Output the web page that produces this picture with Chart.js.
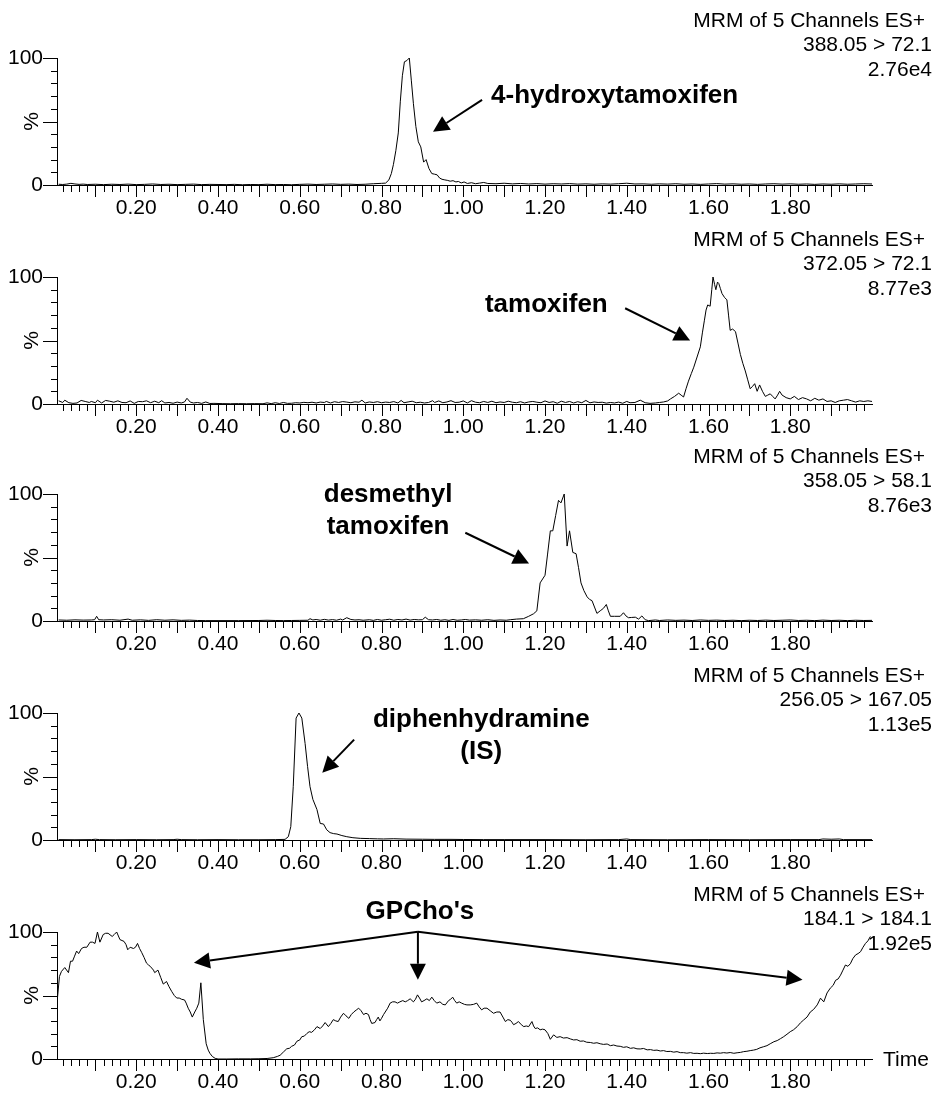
<!DOCTYPE html>
<html>
<head>
<meta charset="utf-8">
<title>MRM chromatograms</title>
<script src="https://cdn.jsdelivr.net/npm/chart.js@4.4.0/dist/chart.umd.min.js"></script>
<style>
  html, body { margin: 0; padding: 0; background: #fff; }
  #wrap { position: relative; width: 937px; height: 1096px; overflow: hidden; }
  #wrap canvas { position: absolute; left: 0; }
</style>
</head>
<body>
<div id="wrap">
  <canvas id="c1" width="937" height="219" style="top:0px"></canvas>
  <canvas id="c2" width="937" height="219" style="top:219px"></canvas>
  <canvas id="c3" width="937" height="219" style="top:436px"></canvas>
  <canvas id="c4" width="937" height="219" style="top:655px"></canvas>
  <canvas id="c5" width="937" height="219" style="top:874px"></canvas>
</div>
<script>
// Tick labels
const xTickLabels = [0.2, 0.4, 0.6, 0.8, 1.0, 1.2, 1.4, 1.6, 1.8];
const yTickLabels = [0, 100];

// Traces: [time (min), intensity (%)]
const hydroxyTrace = [
  [0.01,0.6],[0.02,0.4],[0.03,0.7],[0.04,1.3],[0.05,0.8],[0.06,0.5],[0.07,0.7],[0.08,0.4],[0.10,0.6],[0.12,0.3],
  [0.14,0.6],[0.16,0.4],[0.18,0.7],[0.20,0.3],[0.22,0.5],[0.24,0.8],[0.26,0.4],[0.28,0.6],[0.30,0.3],[0.32,0.5],
  [0.34,0.7],[0.36,0.3],[0.38,0.5],[0.40,0.4],[0.42,0.3],[0.44,0.5],[0.46,0.2],[0.48,0.4],[0.50,0.3],[0.52,0.6],
  [0.54,0.3],[0.56,0.4],[0.58,0.2],[0.60,0.5],[0.62,0.7],[0.64,0.4],[0.66,0.6],[0.68,0.8],[0.70,0.5],[0.72,0.7],
  [0.74,0.4],[0.76,0.6],[0.78,1.0],[0.80,1.3],[0.81,1.5],[0.818,4],[0.824,9],[0.829,16],[0.835,27],[0.841,41],
  [0.846,66],[0.851,86],[0.856,97],[0.862,98],[0.868,100],[0.873,82],[0.878,64],[0.884,46],[0.890,34],[0.896,30],
  [0.903,18],[0.909,20],[0.916,13],[0.923,9],[0.930,8.5],[0.936,8],[0.942,5.5],[0.948,4.5],[0.955,4],[0.962,3.6],
  [0.968,3],[0.975,3.4],[0.982,2.4],[0.988,2.8],[0.995,1.6],[1.002,2.4],[1.010,1.2],[1.02,1.8],[1.03,1.0],[1.04,1.5],
  [1.05,2.0],[1.06,1.2],[1.08,1.0],[1.10,1.4],[1.12,0.9],[1.14,1.2],[1.16,0.8],[1.18,1.1],[1.20,0.7],[1.22,1.0],
  [1.24,0.8],[1.26,1.1],[1.28,0.7],[1.30,0.9],[1.32,0.6],[1.34,0.9],[1.36,0.7],[1.38,1.0],[1.40,1.4],[1.42,0.8],
  [1.44,0.9],[1.46,0.6],[1.48,0.9],[1.50,0.7],[1.52,1.0],[1.54,0.6],[1.56,0.8],[1.58,0.5],[1.60,0.8],[1.62,1.1],
  [1.64,0.7],[1.66,0.9],[1.68,0.6],[1.70,0.8],[1.72,0.5],[1.74,0.8],[1.76,1.0],[1.78,0.7],[1.80,0.9],[1.82,0.6],
  [1.84,0.8],[1.86,0.5],[1.88,0.8],[1.90,0.6],[1.92,0.9],[1.94,0.6],[1.96,0.8],[1.98,1.0],[2.00,0.8]
];

const tamoxifenTrace = [
  [0.01,2.5],[0.02,1.2],[0.025,3.0],[0.035,1.0],[0.045,0.5],[0.055,0.8],[0.065,2.8],[0.075,2.0],[0.085,1.2],[0.09,2.0],
  [0.10,1.0],[0.105,3.0],[0.115,0.8],[0.125,2.8],[0.135,2.2],[0.145,1.4],[0.155,2.5],[0.165,1.2],[0.175,1.0],[0.185,2.4],
  [0.195,0.5],[0.205,2.0],[0.215,1.8],[0.225,2.5],[0.235,1.0],[0.245,2.2],[0.255,1.0],[0.262,2.6],[0.27,0.8],[0.28,1.2],
  [0.29,0.6],[0.30,1.5],[0.31,0.8],[0.318,1.6],[0.324,4.5],[0.332,1.5],[0.34,0.8],[0.35,1.2],[0.36,0.5],[0.37,1.6],
  [0.38,0.4],[0.39,0.5],[0.41,0.3],[0.43,0.2],[0.45,0.3],[0.47,0.2],[0.49,0.3],[0.51,0.2],[0.52,0.9],[0.53,0.3],
  [0.54,1.0],[0.55,0.4],[0.56,1.2],[0.57,0.5],[0.58,0.6],[0.59,1.0],[0.60,0.8],[0.61,1.3],[0.62,1.0],[0.63,1.4],
  [0.64,0.8],[0.65,1.5],[0.66,1.2],[0.665,2.0],[0.675,0.8],[0.685,1.8],[0.695,1.2],[0.705,1.9],[0.715,1.5],[0.725,1.0],
  [0.735,1.7],[0.745,1.4],[0.752,3.0],[0.76,0.8],[0.77,1.6],[0.78,1.2],[0.79,1.8],[0.80,1.0],[0.81,1.5],[0.82,1.2],
  [0.83,1.9],[0.84,0.8],[0.848,2.8],[0.855,1.0],[0.865,1.6],[0.875,2.2],[0.885,1.0],[0.895,1.4],[0.905,0.8],[0.915,1.2],
  [0.925,2.6],[0.93,1.2],[0.94,2.4],[0.95,1.0],[0.96,1.6],[0.97,2.6],[0.98,1.2],[0.99,1.4],[1.00,2.4],[1.01,0.8],
  [1.02,2.6],[1.03,1.4],[1.04,1.0],[1.05,2.0],[1.06,1.2],[1.07,2.2],[1.08,1.0],[1.09,1.6],[1.10,1.2],[1.11,2.2],
  [1.12,1.4],[1.13,1.0],[1.14,1.8],[1.15,0.8],[1.16,1.6],[1.17,2.0],[1.18,1.4],[1.19,1.0],[1.20,2.4],[1.21,1.2],
  [1.22,1.8],[1.23,0.6],[1.24,2.2],[1.25,1.2],[1.26,2.0],[1.27,0.8],[1.28,1.8],[1.29,1.0],[1.30,2.8],[1.31,0.9],
  [1.32,1.6],[1.33,1.2],[1.34,1.4],[1.35,0.7],[1.36,1.2],[1.37,0.8],[1.38,1.5],[1.39,0.6],[1.40,2.0],[1.408,1.0],
  [1.42,1.2],[1.433,3.0],[1.445,1.0],[1.457,0.5],[1.47,0.8],[1.48,1.2],[1.49,1.6],[1.50,2.4],[1.507,4.0],[1.517,6.0],
  [1.527,8.5],[1.533,7.0],[1.539,5.5],[1.545,12],[1.551,18],[1.558,24],[1.564,29],[1.572,37],[1.580,45],[1.585,56],
  [1.590,66],[1.594,74],[1.598,78],[1.604,77],[1.608,90],[1.611,100],[1.615,94],[1.618,90],[1.622,96],[1.625,95],
  [1.629,91],[1.633,87],[1.639,84],[1.645,82],[1.649,70],[1.653,58],[1.659,59],[1.666,57],[1.672,48],[1.678,39],
  [1.684,32],[1.690,26],[1.696,19],[1.702,12],[1.708,14],[1.713,16],[1.719,10],[1.725,15],[1.732,10],[1.739,6],
  [1.745,7],[1.751,8],[1.757,6],[1.763,4],[1.769,7],[1.774,10],[1.78,7],[1.79,5],[1.80,4],[1.81,6],
  [1.82,3.5],[1.83,5],[1.84,4],[1.85,2.5],[1.86,4.5],[1.87,3],[1.88,4],[1.89,2],[1.90,2.5],[1.91,1.2],
  [1.92,2.5],[1.93,3],[1.94,3.5],[1.95,2.5],[1.96,1.5],[1.97,2.5],[1.98,2],[1.99,2.5],[2.00,2.0]
];

const desmethylTrace = [
  [0.01,0.8],[0.03,0.6],[0.05,0.9],[0.07,0.7],[0.09,0.8],[0.098,1.0],[0.103,3.7],[0.108,1.0],[0.12,0.8],[0.14,1.0],
  [0.16,0.6],[0.18,1.5],[0.19,0.6],[0.21,0.9],[0.23,0.5],[0.25,1.0],[0.27,0.6],[0.29,0.9],[0.31,0.5],[0.33,0.7],
  [0.35,0.4],[0.37,0.3],[0.40,0.3],[0.45,0.3],[0.50,0.4],[0.52,0.6],[0.54,0.4],[0.56,0.3],[0.58,0.4],[0.60,0.5],
  [0.62,0.6],[0.625,1.8],[0.632,0.8],[0.64,1.2],[0.65,0.6],[0.66,1.3],[0.67,0.7],[0.68,1.1],[0.69,0.6],[0.70,1.5],
  [0.705,0.8],[0.715,2.6],[0.725,1.2],[0.735,0.8],[0.745,1.0],[0.755,0.6],[0.77,1.0],[0.78,0.5],[0.79,1.2],[0.80,0.6],
  [0.81,1.0],[0.82,1.4],[0.83,0.6],[0.84,1.2],[0.85,0.8],[0.86,1.5],[0.87,0.7],[0.88,1.2],[0.89,0.9],[0.90,1.0],
  [0.907,3.0],[0.915,1.0],[0.925,0.8],[0.935,1.2],[0.945,0.6],[0.955,1.0],[0.965,0.5],[0.975,1.2],[0.985,0.6],[0.995,0.8],
  [1.005,1.2],[1.015,0.7],[1.03,0.9],[1.045,0.6],[1.06,1.0],[1.075,0.5],[1.09,0.8],[1.105,0.6],[1.115,1.0],[1.13,1.5],
  [1.147,1.8],[1.16,3.7],[1.172,5.7],[1.18,8],[1.188,30],[1.200,36],[1.206,52],[1.213,71],[1.219,71],[1.226,83],
  [1.233,95],[1.239,93],[1.247,100],[1.254,59],[1.260,71],[1.268,54],[1.276,53],[1.282,42],[1.288,30],[1.295,24],
  [1.303,19],[1.309,17],[1.315,16],[1.321,11],[1.327,6],[1.335,8],[1.343,10],[1.350,13],[1.355,8],[1.360,3.7],
  [1.370,3.7],[1.384,3.7],[1.392,6.5],[1.398,4],[1.404,2.6],[1.412,2.8],[1.421,3],[1.429,1.5],[1.437,4],[1.445,1.0],
  [1.453,0.3],[1.47,0.8],[1.48,0.4],[1.50,0.8],[1.52,0.5],[1.54,0.7],[1.56,0.4],[1.58,0.8],[1.60,0.5],[1.62,0.7],
  [1.64,0.4],[1.66,0.6],[1.68,0.3],[1.70,0.6],[1.72,0.4],[1.74,0.7],[1.76,0.4],[1.78,0.6],[1.80,0.8],[1.82,0.4],
  [1.84,0.6],[1.86,0.3],[1.88,0.7],[1.90,0.4],[1.92,0.6],[1.94,0.3],[1.96,0.6],[1.98,0.4],[2.00,0.5]
];

const diphenTrace = [
  [0.01,0.3],[0.05,0.2],[0.09,0.3],[0.10,0.6],[0.11,0.3],[0.15,0.2],[0.20,0.3],[0.25,0.2],[0.29,0.3],[0.30,0.6],
  [0.31,0.3],[0.35,0.2],[0.40,0.3],[0.45,0.2],[0.50,0.2],[0.54,0.3],[0.564,0.5],[0.572,2.6],[0.578,10.5],[0.584,42],
  [0.591,96],[0.598,100],[0.605,96],[0.613,76],[0.619,58],[0.625,42],[0.632,32],[0.642,24],[0.650,13],[0.658,12.6],
  [0.666,8],[0.674,5.8],[0.683,5.0],[0.691,4.7],[0.703,3.5],[0.715,2.6],[0.730,1.8],[0.748,1.3],[0.77,1.1],[0.79,0.9],
  [0.805,0.8],[0.83,1.0],[0.86,0.7],[0.90,0.6],[0.93,0.5],[0.97,0.5],[1.00,0.4],[1.05,0.3],[1.10,0.3],[1.20,0.3],
  [1.30,0.2],[1.38,0.3],[1.40,0.8],[1.41,0.3],[1.50,0.2],[1.60,0.3],[1.70,0.2],[1.80,0.3],[1.87,0.3],[1.88,0.8],
  [1.90,0.6],[1.92,0.8],[1.93,0.3],[2.00,0.3]
];

const gpchoTrace = [
  [0.006,44],[0.012,65],[0.017,69],[0.025,72],[0.034,68],[0.039,77],[0.044,77],[0.049,81],[0.054,85],[0.059,83],
  [0.066,87],[0.072,88],[0.079,88],[0.087,92],[0.093,92],[0.099,91],[0.105,100],[0.111,92],[0.119,98],[0.125,99],
  [0.131,99],[0.141,96.5],[0.146,98],[0.152,100],[0.160,94],[0.170,92.6],[0.175,90],[0.179,86],[0.185,88],[0.193,87],
  [0.198,88],[0.203,91],[0.208,87],[0.213,84],[0.219,80],[0.225,75.5],[0.230,74],[0.234,73],[0.242,70],[0.245,68],
  [0.253,70],[0.260,64],[0.266,59],[0.274,61],[0.280,57],[0.287,53],[0.293,50],[0.299,48],[0.305,48],[0.311,47],
  [0.318,46.5],[0.322,44],[0.327,40],[0.332,37],[0.337,33],[0.343,37],[0.348,40],[0.353,44],[0.358,60],[0.364,31],
  [0.371,12],[0.376,7],[0.380,4.5],[0.386,2],[0.393,0.5],[0.40,0],[0.42,0],[0.45,0.1],[0.48,0.1],[0.50,0.2],
  [0.52,0.4],[0.535,1],[0.545,2],[0.552,3],[0.560,5.5],[0.568,8],[0.575,8.5],[0.580,10],[0.587,11],[0.593,14],
  [0.600,15],[0.605,17.6],[0.611,18],[0.617,20],[0.623,21.5],[0.629,21],[0.636,23],[0.642,25.5],[0.650,24],[0.656,26],
  [0.662,28.7],[0.670,25.5],[0.676,28],[0.682,31],[0.688,30],[0.694,29.5],[0.700,33],[0.707,36],[0.713,34],[0.720,32],
  [0.726,35],[0.732,37],[0.738,38.5],[0.744,40],[0.750,38],[0.756,35],[0.762,36],[0.768,35],[0.772,31],[0.776,28],
  [0.784,28.7],[0.788,31],[0.792,33],[0.796,30],[0.800,32],[0.805,35],[0.809,37],[0.815,40],[0.821,44],[0.827,45],
  [0.833,45],[0.839,44],[0.845,45],[0.852,46],[0.858,45],[0.864,46],[0.870,47.4],[0.878,45],[0.883,47],[0.888,50.5],
  [0.893,48],[0.898,45],[0.904,46],[0.911,47.4],[0.917,46],[0.923,48.7],[0.929,46],[0.935,44],[0.943,45],[0.950,43],
  [0.956,42.6],[0.964,46],[0.969,47],[0.974,48.7],[0.979,46],[0.984,44],[0.990,45],[0.996,44],[1.003,43],[1.009,42.6],
  [1.017,42.6],[1.025,43],[1.033,44],[1.039,41],[1.045,38.7],[1.051,40],[1.058,40],[1.066,38],[1.074,36],[1.082,37],
  [1.090,37],[1.097,33],[1.103,29.5],[1.109,31],[1.115,30.5],[1.119,29],[1.123,27],[1.129,28],[1.135,29.5],[1.142,27],
  [1.148,25.5],[1.154,26],[1.160,25.5],[1.168,29.5],[1.172,26],[1.176,24],[1.182,24.5],[1.188,23],[1.194,23.5],[1.200,23],
  [1.207,20],[1.213,15.5],[1.221,19],[1.229,17],[1.237,17.6],[1.245,16.5],[1.254,16.8],[1.262,15.8],[1.270,15],[1.278,15.2],
  [1.286,14],[1.294,14.2],[1.302,13.2],[1.311,13],[1.319,12.4],[1.327,12.8],[1.335,12],[1.343,11.5],[1.352,11.8],[1.360,10.5],
  [1.368,11],[1.376,10.2],[1.384,10],[1.392,9.2],[1.400,9.6],[1.409,8.4],[1.417,8.8],[1.425,8.0],[1.433,7.9],[1.441,8.3],
  [1.450,7.2],[1.458,7.4],[1.466,6.8],[1.474,7.0],[1.482,6.3],[1.490,6.6],[1.498,5.9],[1.507,6.0],[1.515,5.4],[1.523,5.8],
  [1.531,5.0],[1.539,5.0],[1.547,4.6],[1.556,5.0],[1.564,4.4],[1.572,4.5],[1.580,4.2],[1.588,4.6],[1.597,4.3],[1.605,4.5],
  [1.613,4.4],[1.621,4.8],[1.629,4.6],[1.637,5.0],[1.645,4.7],[1.653,5.1],[1.662,4.5],[1.670,4.9],[1.678,5.2],[1.686,5.8],
  [1.694,6.1],[1.702,6.6],[1.710,7.0],[1.718,7.6],[1.726,8.8],[1.735,9.7],[1.743,10.5],[1.751,12],[1.760,13.6],[1.768,14.5],
  [1.776,16],[1.784,17.6],[1.792,19.5],[1.800,21.5],[1.808,23],[1.817,25.5],[1.825,28.5],[1.833,30.8],[1.841,33],[1.849,37],
  [1.857,39],[1.866,42.6],[1.874,47.9],[1.882,45],[1.890,52],[1.898,55.8],[1.905,58],[1.911,62],[1.917,63],[1.923,66],
  [1.929,70],[1.935,74],[1.941,73],[1.947,75],[1.953,79],[1.960,82],[1.966,83],[1.972,84.5],[1.978,88],[1.984,91],
  [1.990,93],[1.996,96.5]
];

const FONT = '"Liberation Sans", Arial, Helvetica, sans-serif';
Chart.defaults.font.family = FONT;
Chart.defaults.color = '#000';

// Panel decorations (annotation positions in data units)
const panels = [
  {
    id: 'c1', trace: hydroxyTrace,
    header: ['MRM of 5 Channels ES+', '388.05 > 72.1', '2.76e4'],
    labels: [{ lines: ['4-hydroxytamoxifen'], t: 1.068, p: 70, align: 'left' }],
    arrows: [{ from: [1.046, 67], to: [0.926, 42] }]
  },
  {
    id: 'c2', trace: tamoxifenTrace,
    header: ['MRM of 5 Channels ES+', '372.05 > 72.1', '8.77e3'],
    labels: [{ lines: ['tamoxifen'], t: 1.053, p: 78, align: 'left' }],
    arrows: [{ from: [1.396, 75.4], to: [1.555, 50] }]
  },
  {
    id: 'c3', trace: desmethylTrace,
    header: ['MRM of 5 Channels ES+', '358.05 > 58.1', '8.76e3'],
    labels: [{ lines: ['desmethyl', 'tamoxifen'], t: 0.816, p: 99, align: 'center' }],
    arrows: [{ from: [1.005, 69.5], to: [1.161, 45.3] }]
  },
  {
    id: 'c4', trace: diphenTrace,
    header: ['MRM of 5 Channels ES+', '256.05 > 167.05', '1.13e5'],
    labels: [{ lines: ['diphenhydramine', '(IS)'], t: 1.044, p: 94.7, align: 'center' }],
    arrows: [{ from: [0.733, 79], to: [0.655, 53] }]
  },
  {
    id: 'c5', trace: gpchoTrace, showTime: true,
    header: ['MRM of 5 Channels ES+', '184.1 > 184.1', '1.92e5'],
    labels: [{ lines: ["GPCho's"], t: 0.894, p: 116, align: 'center' }],
    arrows: [
      { from: [0.889, 100.2], to: [0.341, 75.8] },
      { from: [0.889, 100.2], to: [0.889, 62.4] },
      { from: [0.889, 100.2], to: [1.830, 62.4] }
    ]
  }
];

function drawArrow(ctx, x1, y1, x2, y2) {
  const ang = Math.atan2(y2 - y1, x2 - x1);
  const hl = 16, hw = 8;
  const bx = x2 - hl * Math.cos(ang), by = y2 - hl * Math.sin(ang);
  ctx.beginPath();
  ctx.moveTo(x1, y1);
  ctx.lineTo(bx, by);
  ctx.stroke();
  ctx.beginPath();
  ctx.moveTo(x2, y2);
  ctx.lineTo(bx + hw * Math.sin(ang), by - hw * Math.cos(ang));
  ctx.lineTo(bx - hw * Math.sin(ang), by + hw * Math.cos(ang));
  ctx.closePath();
  ctx.fill();
}

// Tick marks, header text, labels and arrows
function makeDecor(panel) {
  return {
    id: 'decor',
    afterDraw(chart) {
      const { ctx, chartArea: area, scales: { x, y } } = chart;
      ctx.save();
      ctx.strokeStyle = '#000';
      ctx.fillStyle = '#000';
      ctx.lineWidth = 1;

      // minor / major tick marks
      ctx.beginPath();
      for (let i = 1; i < 100; i++) {
        const px = Math.round(x.getPixelForValue(i * 0.02)) + 0.5;
        const len = i % 5 === 0 ? 12 : 7;
        ctx.moveTo(px, area.bottom);
        ctx.lineTo(px, area.bottom + len);
      }
      for (let v = 0; v <= 100; v += 10) {
        const py = Math.round(y.getPixelForValue(v)) + 0.5;
        const len = v % 50 === 0 ? 14 : 6;
        ctx.moveTo(area.left - len, py);
        ctx.lineTo(area.left, py);
      }
      ctx.stroke();

      // header (first line sits a little left, as in the instrument printout)
      ctx.font = '21px ' + FONT;
      ctx.textAlign = 'right';
      ctx.textBaseline = 'middle';
      panel.header.forEach((line, i) => {
        const right = i === 0 ? chart.width - 12 : chart.width - 5;
        ctx.fillText(line, right, area.top - 37 + i * 24.5);
      });

      if (panel.showTime) {
        ctx.textAlign = 'left';
        ctx.fillText('Time', area.right + 11, area.bottom + 1);
      }

      // compound labels
      ctx.font = 'bold 26px ' + FONT;
      panel.labels.forEach(lb => {
        ctx.textAlign = lb.align;
        const px = x.getPixelForValue(lb.t);
        const py = y.getPixelForValue(lb.p);
        lb.lines.forEach((txt, i) => ctx.fillText(txt, px, py + i * 32));
      });

      // arrows
      ctx.lineWidth = 2;
      panel.arrows.forEach(a => {
        drawArrow(ctx,
          x.getPixelForValue(a.from[0]), y.getPixelForValue(a.from[1]),
          x.getPixelForValue(a.to[0]), y.getPixelForValue(a.to[1]));
      });
      ctx.restore();
    }
  };
}

panels.forEach(panel => {
  const ctx = document.getElementById(panel.id).getContext('2d');
  new Chart(ctx, {
    type: 'line',
    data: {
      datasets: [{
        data: panel.trace.map(([t, p]) => ({ x: t, y: p })),
        borderColor: '#000',
        borderWidth: 1,
        pointRadius: 0,
        tension: 0,
        fill: false
      }]
    },
    options: {
      responsive: false,
      animation: false,
      layout: { padding: { top: 58, right: 65, bottom: 0, left: 0 } },
      plugins: {
        legend: { display: false },
        tooltip: { enabled: false }
      },
      scales: {
        x: {
          type: 'linear',
          min: 0.006,
          max: 2.0,
          afterFit: s => { s.height = 34; },
          afterBuildTicks: s => { s.ticks = xTickLabels.map(v => ({ value: v })); },
          grid: { display: false, drawTicks: false },
          border: { display: true, color: '#000', width: 1 },
          ticks: {
            color: '#000',
            padding: 11,
            maxRotation: 0,
            autoSkip: false,
            font: { size: 21 },
            callback: v => v.toFixed(2)
          }
        },
        y: {
          min: 0,
          max: 100,
          afterFit: s => { s.width = 57; },
          afterBuildTicks: s => { s.ticks = yTickLabels.map(v => ({ value: v })); },
          grid: { display: false, drawTicks: false },
          border: { display: true, color: '#000', width: 1 },
          ticks: { color: '#000', padding: 14, font: { size: 21 } },
          title: {
            display: true,
            text: '%',
            color: '#000',
            font: { size: 21 },
            padding: { top: 20, bottom: 0 }
          }
        }
      }
    },
    plugins: [makeDecor(panel)]
  });
});
</script>
</body>
</html>
